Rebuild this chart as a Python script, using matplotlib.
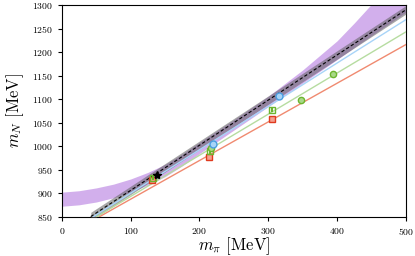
import numpy as np
import matplotlib
matplotlib.use("Agg")
import matplotlib.pyplot as plt

plt.rcParams['font.family'] = 'serif'
plt.rcParams['font.serif'] = ['cmr10']
plt.rcParams['mathtext.fontset'] = 'cm'
plt.rcParams['axes.formatter.use_mathtext'] = True

# lattice data (m_pi, m_N, error)
red_mpi = [131, 214, 305]
red_mN = [927, 976, 1057]
red_err = [5, 5, 4]

green_sq_mpi = [132, 216, 305]
green_sq_mN = [933, 989, 1077]
green_sq_err = [5, 5, 4]

green_ci_mpi = [217, 347, 394]
green_ci_mN = [997, 1099, 1154]
green_ci_err = [5, 4, 4]

blue_mpi = [219, 316]
blue_mN = [1004, 1107]
blue_err = [5, 5]

phys_mpi = [138]
phys_mN = [939]

# straight fit lines, two end points each
red_line_x = [55, 500]
red_line_y = [850, 1216]
green_line_x = [51, 500]
green_line_y = [850, 1243]
blue_line_x = [46, 500]
blue_line_y = [850, 1269]
gray_x = [42, 500]
gray_y = [850, 1290]
gray_half = 9

# chiral fit band
band_x = [0, 25, 50, 75, 100, 125, 150, 175, 200, 250, 300, 350, 400, 425, 450, 475, 500]
band_lo = [872, 875, 881, 890, 902, 917, 935, 958, 984, 1034, 1084, 1134, 1184, 1210, 1235, 1260, 1285]
band_hi = [902, 905, 911, 919, 930, 944, 961, 983, 1008, 1056, 1106, 1162, 1224, 1262, 1302, 1345, 1390]

fig = plt.figure(figsize=(4.15, 2.56), dpi=100)
ax = fig.add_axes([0.149, 0.154, 0.829, 0.826])

ax.fill_between(band_x, band_lo, band_hi, color='#b57be0', alpha=0.6, lw=0, zorder=2)
gx = np.array(gray_x)
gy = np.array(gray_y)
ax.fill_between(gx, gy - gray_half, gy + gray_half, color='#606060', alpha=0.55, lw=0, zorder=3)
ax.plot(gx, gy, color='black', ls='--', lw=0.8, dashes=(3, 2), zorder=4)

ax.plot(red_line_x, red_line_y, color='#f08a70', lw=1.0, zorder=3)
ax.plot(green_line_x, green_line_y, color='#b6dca0', lw=1.0, zorder=3)
ax.plot(blue_line_x, blue_line_y, color='#a8d4f8', lw=1.0, zorder=3)

ax.errorbar(red_mpi, red_mN, yerr=red_err, fmt='s', ms=5, mfc='#f4a090', mec='#e03a1e',
            ecolor='#e03a1e', mew=1.0, capsize=0, zorder=5)
ax.errorbar(green_sq_mpi, green_sq_mN, yerr=green_sq_err, fmt='s', ms=4.5, mfc='none', mec='#6cb52e',
            ecolor='#6cb52e', mew=1.0, capsize=0, zorder=6)
ax.errorbar(green_ci_mpi, green_ci_mN, yerr=green_ci_err, fmt='o', ms=4.5, mfc='#a8d888', mec='#6cb52e',
            ecolor='#6cb52e', mew=1.0, capsize=0, zorder=6)
ax.errorbar(blue_mpi, blue_mN, yerr=blue_err, fmt='o', ms=5, mfc='#a8d4f8', mec='#4a9ee0',
            ecolor='#4a9ee0', mew=1.0, capsize=0, zorder=6)
ax.plot(phys_mpi, phys_mN, '*', color='black', ms=6, zorder=7)

ax.set_xlim(0, 500)
ax.set_ylim(850, 1300)
ax.set_xticks([0, 100, 200, 300, 400, 500])
ax.set_yticks(np.arange(850, 1301, 50))
ax.tick_params(labelsize=7, direction='out', length=3)
for s in ax.spines.values():
    s.set_linewidth(0.8)
ax.set_xlabel(r'$m_\pi$ [MeV]', fontsize=12, labelpad=-1)
ax.set_ylabel(r'$m_N$ [MeV]', fontsize=12, labelpad=4)

fig.savefig('out.png', dpi=100)
